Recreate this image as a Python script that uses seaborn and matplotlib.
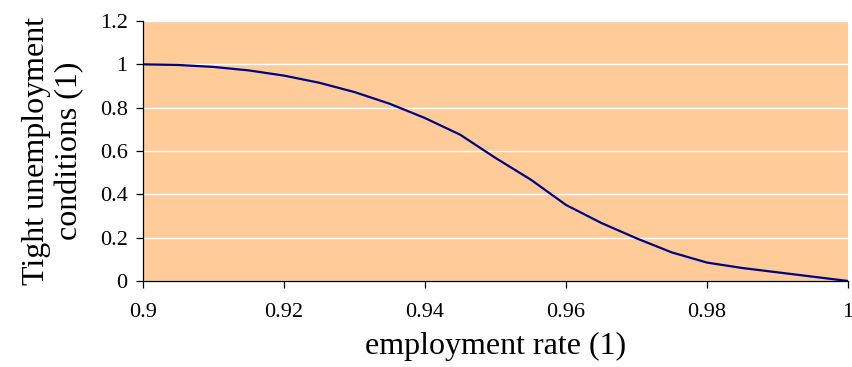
import matplotlib
matplotlib.use("Agg")
import matplotlib.pyplot as plt
import seaborn as sns
import pandas as pd

# Employment rate grid and the corresponding tight-unemployment indicator
employment_rate = [0.900, 0.905, 0.910, 0.915, 0.920, 0.925, 0.930, 0.935, 0.940,
                   0.945, 0.950, 0.955, 0.960, 0.965, 0.970, 0.975, 0.980, 0.985,
                   0.990, 0.995, 1.000]
tight_conditions = [1.000, 0.997, 0.988, 0.972, 0.948, 0.915, 0.872, 0.818, 0.752,
                    0.675, 0.568, 0.468, 0.351, 0.268, 0.197, 0.132, 0.085, 0.060,
                    0.040, 0.020, 0.000]

x_ticks = [0.9, 0.92, 0.94, 0.96, 0.98, 1.0]
x_tick_labels = ["0.9", "0.92", "0.94", "0.96", "0.98", "1"]
y_ticks = [0, 0.2, 0.4, 0.6, 0.8, 1.0, 1.2]
y_tick_labels = ["0", "0.2", "0.4", "0.6", "0.8", "1", "1.2"]

df = pd.DataFrame({"rate": employment_rate, "tight": tight_conditions})

sns.set_theme(style="white")
plt.rcParams["font.family"] = ["Liberation Serif", "DejaVu Serif"]

fig = plt.figure(figsize=(8.52, 3.67), dpi=100)
ax = fig.add_axes([143 / 852, 1 - 281 / 367, 705 / 852, 260 / 367])
ax.set_facecolor("#FFCC99")

sns.lineplot(data=df, x="rate", y="tight", ax=ax, color="#000080", linewidth=1.6)

ax.set_xlim(0.9, 1.0)
ax.set_ylim(0, 1.2)
ax.set_xticks(x_ticks)
ax.set_xticklabels(x_tick_labels)
ax.set_yticks(y_ticks)
ax.set_yticklabels(y_tick_labels)

ax.yaxis.grid(True, color="white", linewidth=1.0)
ax.xaxis.grid(False)
ax.set_axisbelow(True)

for side in ("top", "right"):
    ax.spines[side].set_visible(False)
for side in ("left", "bottom"):
    ax.spines[side].set_color("black")
    ax.spines[side].set_linewidth(0.9)

ax.tick_params(axis="both", which="major", direction="out", length=5, width=0.9,
               color="black", labelsize=16, labelcolor="black",
               left=True, bottom=True)
ax.tick_params(axis="x", pad=11)
ax.tick_params(axis="y", pad=6)

ax.set_xlabel("employment rate (1)", fontsize=23, color="black", labelpad=7)
ax.set_ylabel("Tight unemployment\nconditions (1)", fontsize=23, color="black",
              labelpad=11, linespacing=1.2)

fig.savefig("out.png", dpi=100)
